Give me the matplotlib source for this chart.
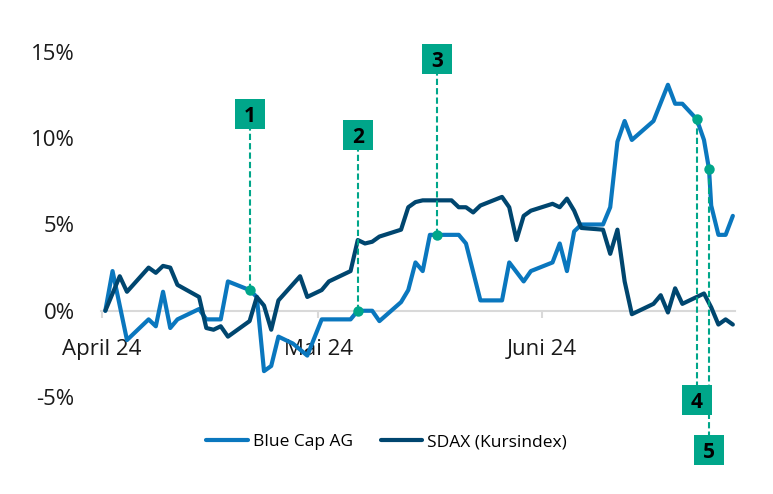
"""Blue Cap AG vs. SDAX, relative performance April-June 2024 with event markers."""

import matplotlib.pyplot as plt
import numpy as np

# x = days counted from 1 April 2024, y = performance in %
bluecap_days = [1, 2, 4, 7, 8, 9, 10, 11, 14, 15,
                17, 18, 21, 22, 23, 24, 25, 27, 29, 31,
                35, 36, 38, 39, 42, 43, 44, 45, 46, 50,
                51, 53, 56, 57, 59, 60, 63, 64, 65, 66,
                67, 70, 71, 72, 73, 74, 77, 79, 80, 81,
                83, 84, 84.7, 85, 86, 87, 88]
bluecap_pct = [0.0, 2.3, -1.7, -0.5, -0.9, 1.1, -1.0, -0.5, 0.1, -0.5,
               -0.5, 1.7, 1.2, 0.8, -3.5, -3.2, -1.5, -1.9, -2.6, -0.5,
               -0.5, 0.0, 0.0, -0.6, 0.5, 1.2, 2.8, 2.3, 4.4, 4.4,
               3.9, 0.6, 0.6, 2.8, 1.7, 2.3, 2.8, 3.9, 2.3, 4.6,
               5.0, 5.0, 6.0, 9.8, 11.0, 9.9, 11.0, 13.1, 12.0, 12.0,
               11.1, 9.9, 8.2, 6.1, 4.4, 4.4, 5.5]

sdax_days = [1, 3, 4, 7, 8, 9, 10, 11, 14, 15,
             16, 17, 18, 21, 22, 23, 24, 25, 28, 29,
             31, 32, 35, 36, 37, 38, 39, 42, 43, 44,
             45, 49, 50, 51, 52, 53, 56, 57, 58, 59,
             60, 63, 64, 65, 66, 67, 70, 71, 72, 73,
             74, 77, 78, 79, 80, 81, 84, 85, 86, 87, 88]
sdax_pct = [0.0, 2.0, 1.1, 2.5, 2.2, 2.6, 2.5, 1.5, 0.8, -1.0,
            -1.1, -0.9, -1.5, -0.6, 0.8, 0.3, -1.1, 0.6, 2.0, 0.8,
            1.2, 1.7, 2.3, 4.1, 3.9, 4.0, 4.3, 4.7, 6.0, 6.3,
            6.4, 6.4, 6.0, 6.0, 5.7, 6.1, 6.6, 6.0, 4.1, 5.5,
            5.8, 6.2, 6.0, 6.5, 5.8, 4.8, 4.7, 3.3, 4.7, 1.7,
            -0.2, 0.4, 0.9, -0.1, 1.3, 0.4, 1.0, 0.2, -0.8, -0.5, -0.8]

event_labels = ["1", "2", "3", "4", "5"]
event_days = [21, 36, 47, 83, 84.7]

month_ticks = [0.5, 30.5, 61.5]
month_labels = ["April 24", "Mai 24", "Juni 24"]
pct_ticks = [-5, 0, 5, 10, 15]

# layout: height (in %) of the numbered boxes
EVENT_BOX_LEVEL = [11.4, 10.2, 14.6, -5.2, -8.1]

BLUE = "#0A77BE"
NAVY = "#00466F"
TEAL = "#00A68A"
GREY = "#D9D9D9"
TEXT = "#1A1A1A"

plt.rcParams["font.family"] = ["Open Sans", "DejaVu Sans"]

fig = plt.figure(figsize=(7.73, 4.94), dpi=100)
ax = fig.add_axes([101 / 773, 97 / 494, 634 / 773, 345 / 494])

line_kw = dict(lw=3, solid_joinstyle="round", solid_capstyle="round")
ax.plot(bluecap_days, bluecap_pct, color=BLUE, label="Blue Cap AG", zorder=3, **line_kw)
ax.plot(sdax_days, sdax_pct, color=NAVY, label="SDAX (Kursindex)", zorder=3, **line_kw)

for label, day, level in zip(event_labels, event_days, EVENT_BOX_LEVEL):
    y = np.interp(day, bluecap_days, bluecap_pct)
    ax.plot([day, day], [y, level], color=TEAL, lw=1.5, ls=(0, (3, 1.5)),
            zorder=4, clip_on=False)
    ax.plot(day, y, "o", ms=7.5, mew=0, color=TEAL, zorder=5)
    ax.plot(day, level, "s", ms=21.5, mew=0, color=TEAL, zorder=6, clip_on=False)
    ax.text(day, level, label, ha="center", va="center_baseline", fontsize=15,
            fontweight="bold", color="black", zorder=7)

ax.set_xlim(0.4, 88.3)
ax.set_ylim(-5, 15)
ax.set_xticks(month_ticks)
ax.set_xticklabels(month_labels)
ax.set_yticks(pct_ticks)
ax.set_yticklabels([f"{v}%" for v in pct_ticks])

for side in ("top", "right", "left"):
    ax.spines[side].set_visible(False)
ax.spines["bottom"].set_position(("data", 0))
ax.spines["bottom"].set_color(GREY)
ax.spines["bottom"].set_linewidth(1.5)
ax.tick_params(axis="x", length=5, width=1.5, color=GREY, pad=15,
               labelsize=16, labelcolor=TEXT)
ax.tick_params(axis="y", length=0, pad=19, labelsize=16, labelcolor=TEXT)

handles, labels = ax.get_legend_handles_labels()
fig.legend(handles, labels, loc="center", bbox_to_anchor=(0.5, 1 - 442 / 494),
           ncol=2, frameon=False, fontsize=12.5, handlelength=2.4,
           handletextpad=0.3, columnspacing=1.6)

fig.savefig("out.png", dpi=100)
